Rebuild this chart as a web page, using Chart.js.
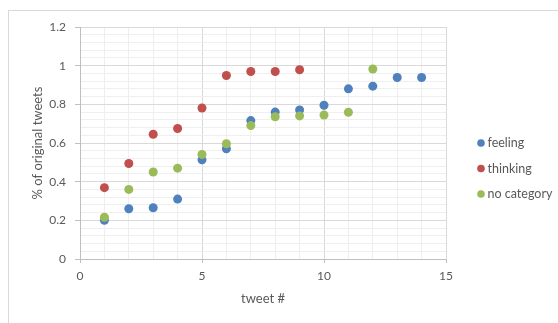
<!DOCTYPE html>
<html>
<head>
<meta charset="utf-8">
<script src="https://cdn.jsdelivr.net/npm/chart.js@4.4.1/dist/chart.umd.min.js"></script>
<style>
    body { margin: 0; background: #fff; }
    #wrap { position: relative; width: 558px; height: 323px; }
    #frame { position: absolute; left: 8px; top: 10px; width: 600px; height: 400px;
             border-left: 1px solid #d9d9d9; border-top: 1px solid #d9d9d9; }
    #grafico { position: absolute; left: 0; top: 0; }
</style>
</head>
<body>
<div id="wrap">
    <div id="frame"></div>
    <canvas id="grafico" width="558" height="323"></canvas>
</div>
<script>
// datos
const feelingX = [1, 2, 3, 4, 5, 6, 7, 8, 9, 10, 11, 12, 13, 14];
const feeling = [0.20, 0.26, 0.265, 0.31, 0.513, 0.57, 0.716, 0.76, 0.771, 0.795, 0.88, 0.894, 0.939, 0.939];
const thinkingX = [1, 2, 3, 4, 5, 6, 7, 8, 9];
const thinking = [0.369, 0.494, 0.645, 0.675, 0.781, 0.949, 0.97, 0.97, 0.979];
const noCategoryX = [1, 2, 3, 4, 5, 6, 7, 8, 9, 10, 11, 12];
const noCategory = [0.216, 0.36, 0.45, 0.47, 0.541, 0.596, 0.69, 0.736, 0.74, 0.745, 0.759, 0.983];

const seriesNames = ['feeling', 'thinking', 'no category'];
const seriesColors = ['#4F81BD', '#C0504D', '#9BBB59'];

const fontFamily = 'Lato, "Open Sans", sans-serif';
const textColor = '#595959';

function toPoints(xs, ys) {
    return xs.map((x, i) => ({ x: x, y: ys[i] }));
}

function isMajorY(v) {
    return Math.abs(v / 0.2 - Math.round(v / 0.2)) < 1e-6;
}

// leyenda a la derecha
const legendPlugin = {
    id: 'leyenda',
    afterDraw(chart) {
        const ctx = chart.ctx;
        ctx.save();
        ctx.font = '12.5px ' + fontFamily;
        ctx.textBaseline = 'middle';
        seriesNames.forEach((name, i) => {
            const y = 143 + i * 25.5;
            ctx.fillStyle = seriesColors[i];
            ctx.beginPath();
            ctx.arc(481, y, 3.8, 0, Math.PI * 2);
            ctx.fill();
            ctx.fillStyle = textColor;
            ctx.fillText(name, 487.5, y);
        });
        ctx.restore();
    }
};

const ctx = document.getElementById('grafico').getContext('2d');
new Chart(ctx, {
    type: 'scatter',
    data: {
        datasets: [
            { label: seriesNames[0], data: toPoints(feelingX, feeling), backgroundColor: seriesColors[0], borderColor: seriesColors[0], order: 3 },
            { label: seriesNames[1], data: toPoints(thinkingX, thinking), backgroundColor: seriesColors[1], borderColor: seriesColors[1], order: 2 },
            { label: seriesNames[2], data: toPoints(noCategoryX, noCategory), backgroundColor: seriesColors[2], borderColor: seriesColors[2], order: 1 }
        ]
    },
    options: {
        responsive: false,
        animation: false,
        elements: { point: { radius: 4.5, borderWidth: 0 } },
        layout: { padding: { left: 30, top: 27, right: 112, bottom: 16 } },
        plugins: { legend: { display: false }, tooltip: { enabled: false } },
        scales: {
            x: {
                type: 'linear',
                min: 0,
                max: 15,
                afterFit: s => { s.height = 48; },
                ticks: {
                    stepSize: 1,
                    autoSkip: false,
                    maxRotation: 0,
                    padding: 6,
                    color: textColor,
                    font: { family: fontFamily, size: 12 },
                    callback: v => (v % 5 === 0 ? String(v) : '')
                },
                grid: {
                    color: c => (c.tick && c.tick.value % 5 === 0 ? '#d9d9d9' : '#efefef'),
                    tickColor: c => (c.tick && c.tick.value % 5 === 0 ? '#bfbfbf' : 'rgba(0,0,0,0)'),
                    tickLength: 4
                },
                border: { color: '#bfbfbf' },
                title: {
                    display: true,
                    text: 'tweet #',
                    color: textColor,
                    font: { family: fontFamily, size: 13 },
                    padding: 0
                }
            },
            y: {
                min: 0,
                max: 1.2,
                afterFit: s => { s.width = 50; },
                ticks: {
                    stepSize: 0.04,
                    autoSkip: false,
                    padding: 9,
                    color: textColor,
                    font: { family: fontFamily, size: 12 },
                    callback: v => (isMajorY(v) ? String(Number(v.toFixed(1))) : '')
                },
                grid: {
                    color: c => (c.tick && isMajorY(c.tick.value) ? '#d9d9d9' : '#efefef'),
                    tickColor: c => (c.tick && isMajorY(c.tick.value) ? '#bfbfbf' : 'rgba(0,0,0,0)'),
                    tickLength: 5
                },
                border: { color: '#bfbfbf' },
                title: {
                    display: true,
                    text: '% of original tweets',
                    color: textColor,
                    font: { family: fontFamily, size: 13 },
                    padding: 0
                }
            }
        }
    },
    plugins: [legendPlugin]
});
</script>
</body>
</html>
